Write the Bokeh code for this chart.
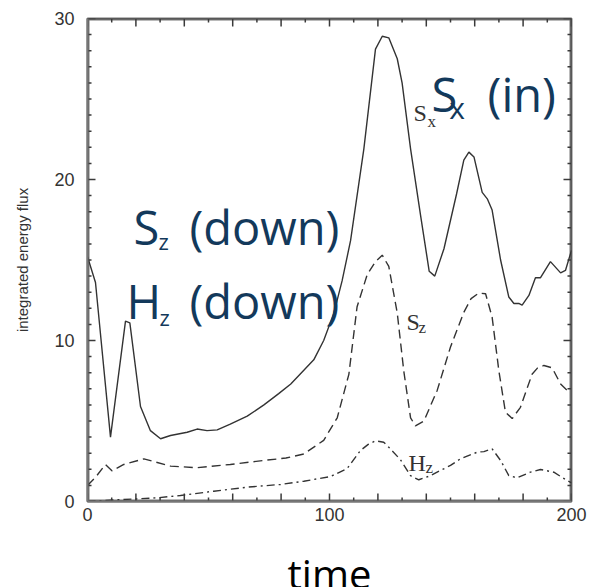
from bokeh.plotting import figure
from bokeh.models import Range1d, SingleIntervalTicker, Label
from bokeh.embed import file_html
from bokeh.resources import INLINE

# ---- data ----
sx_t = [0, 3.3, 9.5, 15.7, 17.5, 21.9, 26, 30.2, 34.3, 41.2, 45.3, 49.4, 53.6, 59, 66, 72.9, 79,
        84, 93.5, 97.6, 101.8, 105.2, 108.7, 114.2, 119, 121.8, 124.5, 128, 130, 133.5, 137.6,
        141.2, 143.5, 147.3, 152.5, 155.5, 157.6, 159.7, 163.1, 165.2, 167.2, 170.7, 174.1,
        176.2, 178.2, 179.6, 182.4, 185.1, 187.2, 191.3, 195.5, 197.5, 200]
sx_v = [15.2, 13.6, 4.0, 11.2, 11.1, 5.9, 4.4, 3.9, 4.1, 4.3, 4.5, 4.4, 4.45, 4.8, 5.3, 6.0, 6.7,
        7.3, 8.8, 10.0, 11.7, 13.7, 16.2, 21.9, 28.1, 28.9, 28.8, 27.5, 26.0, 21.9, 17.8,
        14.3, 14.0, 15.7, 19.1, 21.2, 21.7, 21.4, 19.2, 18.8, 18.1, 15.0, 12.7,
        12.3, 12.3, 12.2, 12.8, 13.9, 13.9, 14.9, 14.2, 14.35, 15.6]

sz_t = [0, 3.3, 7.4, 10.2, 15, 23.3, 34.3, 45.3, 59, 72.9, 82, 89.4, 97.6, 103.2, 108, 111.4,
        115.6, 119, 121.8, 124.5, 128, 130.7, 133.5, 135.5, 139, 144.5, 150, 155.5, 158.5,
        161.7, 164.5, 167.2, 170, 172.7, 175.5, 178.9, 183.7, 186, 188.6, 192, 195.5, 198.2, 200]
sz_v = [1.0, 1.5, 2.3, 1.9, 2.3, 2.65, 2.2, 2.1, 2.3, 2.55, 2.7, 2.95, 3.8, 5.2, 7.9, 12.1,
        14.1, 14.9, 15.3, 14.6, 11.7, 8.1, 5.2, 4.7, 5.0, 6.9, 9.6, 11.75, 12.6,
        12.95, 12.9, 11.45, 8.1, 5.55, 5.15, 5.85, 7.9, 8.3, 8.45, 8.3, 7.3, 6.9, 7.0]

hz_t = [0, 10.9, 19, 28.8, 38.4, 52.2, 66, 79.8, 89.4, 100.4, 107.3, 112.8, 116, 119, 122.4,
        124.5, 129.3, 133.5, 136.9, 141.7, 145.9, 150, 154.1, 161, 163.8, 167.2, 170.7, 174.1,
        177.5, 183, 187.2, 192.7, 198.2, 200]
hz_v = [0.0, 0.1, 0.15, 0.23, 0.37, 0.64, 0.89, 1.06, 1.26, 1.55, 2.05, 3.17, 3.55, 3.77, 3.68,
        3.37, 2.6, 1.6, 1.35, 1.6, 1.93, 2.24, 2.65, 3.06, 3.1, 3.27, 2.55, 1.61,
        1.47, 1.82, 1.99, 1.82, 1.3, 1.15]

x_tick_labels = {0: "0", 100: "100", 200: "200"}
y_label = "integrated energy flux"
x_label = "time"

X_MIN, X_MAX, Y_MIN, Y_MAX = 0, 200, 0, 30
x_major = list(range(0, 201, 20))
x_minor = list(range(10, 200, 20))
y_major = list(range(0, 31, 10))
y_minor = [v for v in range(1, 30) if v % 10 != 0]

FRAME_W, FRAME_H = 484, 483
PX_X = (X_MAX - X_MIN) / FRAME_W
PX_Y = (Y_MAX - Y_MIN) / FRAME_H
MAJ, MIN = 8, 4   # inward tick lengths in pixels

AX = "#777777"
TK = "#3a3a3a"
LINE = "#333333"
BLUE = "#13395B"

p = figure(width=600, height=587, output_backend="svg", toolbar_location=None,
           x_range=Range1d(X_MIN, X_MAX), y_range=Range1d(Y_MIN, Y_MAX),
           min_border_left=87, min_border_right=29, min_border_top=18, min_border_bottom=86,
           frame_width=FRAME_W, frame_height=FRAME_H)
p.grid.visible = False
p.outline_line_color = AX
p.outline_line_width = 2
p.background_fill_color = None
p.border_fill_color = None

# frame box as one closed polyline (outer half clipped by the frame)
p.line([X_MIN, X_MAX, X_MAX, X_MIN, X_MIN], [Y_MIN, Y_MIN, Y_MAX, Y_MAX, Y_MIN],
       line_color=AX, line_width=4)


def zigzag_h(edge, sgn):
    ticks = sorted([(v, MAJ) for v in x_major] + [(v, MIN) for v in x_minor])
    xs, ys = [], []
    for v, ln in ticks:
        xs += [v, v, v]
        ys += [edge, edge + sgn * ln * PX_Y, edge]
    return xs, ys


def zigzag_v(edge, sgn):
    ticks = sorted([(v, MAJ) for v in y_major] + [(v, MIN) for v in y_minor])
    xs, ys = [], []
    for v, ln in ticks:
        ys += [v, v, v]
        xs += [edge, edge + sgn * ln * PX_X, edge]
    return xs, ys


for xs, ys in (zigzag_h(Y_MIN, 1), zigzag_h(Y_MAX, -1),
               zigzag_v(X_MIN, 1), zigzag_v(X_MAX, -1)):
    p.line(xs, ys, line_color=TK, line_width=1.5)

p.line(sx_t, sx_v, line_color=LINE, line_width=1.4)
p.line(sz_t, sz_v, line_color=LINE, line_width=1.4, line_dash="9 5")
p.line(hz_t, hz_v, line_color=LINE, line_width=1.4, line_dash="8 4 2 4")

xa = p.xaxis[0]
ya = p.yaxis[0]
xa.ticker = SingleIntervalTicker(interval=20, num_minor_ticks=2)
ya.ticker = SingleIntervalTicker(interval=10, num_minor_ticks=10)
for ax in (xa, ya):
    ax.axis_line_color = AX
    ax.axis_line_width = 2
    ax.major_tick_line_color = None
    ax.minor_tick_line_color = None
    ax.major_tick_in = 0
    ax.major_tick_out = 0
    ax.minor_tick_in = 0
    ax.minor_tick_out = 0
    ax.major_label_text_font = "Liberation Sans"
    ax.major_label_text_font_size = "18px"
    ax.major_label_text_color = "#333333"

overrides = {v: "" for v in x_major}
overrides.update(x_tick_labels)
xa.major_label_overrides = overrides
xa.major_label_standoff = 6
xa.axis_label = x_label
xa.axis_label_text_font = "Open Sans"
xa.axis_label_text_font_size = "40px"
xa.axis_label_text_font_style = "normal"
xa.axis_label_text_color = "black"
xa.axis_label_standoff = 22

ya.major_label_standoff = 13
ya.axis_label = y_label
ya.axis_label_text_font = "Liberation Sans"
ya.axis_label_text_font_size = "15px"
ya.axis_label_text_font_style = "normal"
ya.axis_label_text_color = "#333333"
ya.axis_label_standoff = 20

# big blue annotations
def blue(x, y, txt, size):
    p.add_layout(Label(x=x, y=y, text=txt, text_align="left", text_baseline="alphabetic",
                       text_font="Open Sans", text_font_size=size, text_color=BLUE))

blue(19.0, 17.02, "S", "47px")
blue(29.3, 16.2, "z", "22px")
blue(42.1, 17.02, "(down)", "47px")
blue(16.1, 12.48, "H", "47px")
blue(29.75, 11.43, "z", "22px")
blue(42.1, 12.48, "(down)", "47px")
blue(142.1, 25.34, "S", "47px")
blue(149.5, 24.47, "x", "30px")
blue(165.3, 25.34, "(in)", "47px")

# small serif curve labels
def serif(x, y, txt, size):
    p.add_layout(Label(x=x, y=y, text=txt, text_align="left", text_baseline="alphabetic",
                       text_font="Liberation Serif", text_font_size=size, text_color="#333333"))

serif(134.7, 24.1, "S", "24px")
serif(140.5, 23.6, "x", "17px")
serif(131.8, 11.12, "S", "24px")
serif(136.8, 10.8, "z", "17px")
serif(132.6, 2.42, "H", "24px")
serif(139.7, 2.11, "z", "17px")

open("out.html", "w").write(file_html(p, INLINE))
